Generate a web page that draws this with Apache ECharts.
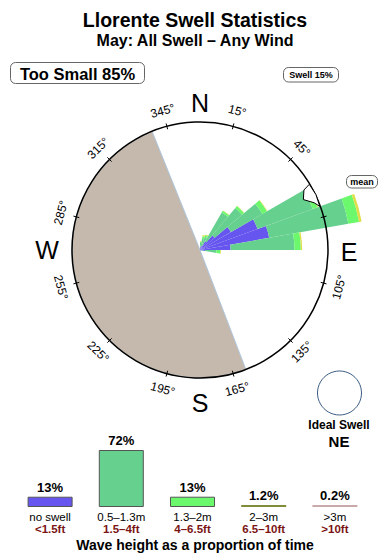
<!DOCTYPE html>
<html><head><meta charset="utf-8">
<script src="https://cdn.jsdelivr.net/npm/echarts@6/dist/echarts.min.js"></script>
<style>html,body{margin:0;padding:0;background:#fff}#c{width:390px;height:560px}</style>
</head><body><div id="c"></div>
<script>
// ---- Data ----
const directionBins = ['0','10','20','30','40','50','60','70','80','90','100','110','120','130','140','150','160','170','180','190','200','210','220','230','240','250','260','270','280','290','300','310','320','330','340','350'];
// radial length per 10° bin (units: compass circle = 10)
const noSwell    = [0.2,0.3,0.4,0.8,1.5,2.8,4.8,5.5,2.4,0.4,0.1,0,0,0,0,0,0,0,0,0,0,0,0,0,0,0,0,0,0,0,0,0,0,0,0,0];
const swell05_13 = [0.35,0.6,0.7,2.6,2.8,2.85,4.6,6.3,5.0,0.9,0.15,0,0,0,0,0,0,0,0,0,0,0,0,0,0,0,0,0,0,0,0,0,0,0,0,0];
const swell13_2  = [0.1,0.2,0.15,0.15,0.2,0.4,0.4,0.85,0.5,0.3,0.05,0,0,0,0,0,0,0,0,0,0,0,0,0,0,0,0,0,0,0,0,0,0,0,0,0];
const swell2_3   = [0.05,0.1,0.05,0.03,0.03,0.05,0.05,0.2,0.1,0.05,0,0,0,0,0,0,0,0,0,0,0,0,0,0,0,0,0,0,0,0,0,0,0,0,0,0];
const meanDirection = 64.5;
const landFrom = 159, landTo = 338;
const degreeTicks = [15,45,75,105,135,165,195,225,255,285,315,345];
const compassPoints = ['N','E','S','W'];
const heightLabels = ['no swell','0.5–1.3m','1.3–2m','2–3m','>3m'];
const feetLabels = ['<1.5ft','1.5–4ft','4–6.5ft','6.5–10ft','>10ft'];
const proportions = [13,72,13,1.2,0.2];
const proportionLabels = ['13%','72%','13%','1.2%','0.2%'];

// ---- Styles ----
const FONT = 'Liberation Sans, Arial, Helvetica, sans-serif';
const colBlue = '#6655ee', colGreen = '#66d08e', colLight = '#6cf86c', colYellow = '#dede48';
const legendColors = [colBlue, colGreen, colLight, '#7f8c3a', '#c9a9a9'];
const legendBorders = ['#555','#555','#555','#7f8c3a','#c9a9a9'];
const CX = 200, CY = 250, CR = 128;

function pt(bearing, r){
  const a = bearing*Math.PI/180;
  return [CX + r*Math.sin(a), CY - r*Math.cos(a)];
}
const graphics = [];
// land sector
graphics.push({type:'sector', z:0, shape:{cx:CX, cy:CY, r:CR, r0:0,
  startAngle:(landFrom-90)*Math.PI/180, endAngle:(landTo-90)*Math.PI/180, clockwise:true},
  style:{fill:'#c5b9ad', stroke:'#aec6dc', lineWidth:1}});
// degree labels
degreeTicks.forEach(d=>{
  const p = pt(d,144);
  let rot;
  if (d>=270 || d<=90) rot = -((d>180?d-360:d))*Math.PI/180;
  else rot = -(d-180)*Math.PI/180;
  graphics.push({type:'text', z:1, x:p[0], y:p[1], rotation:rot,
    style:{text:d+'°', x:0, y:0, fill:'#000', font:'12px '+FONT, fontSize:12, fontFamily:FONT,
      align:'center', verticalAlign:'middle', textAlign:'center', textVerticalAlign:'middle'}});
  const a = pt(d,125), b = pt(d,131);
  graphics.push({type:'line', z:10, shape:{x1:a[0],y1:a[1],x2:b[0],y2:b[1]}, style:{stroke:'#000', lineWidth:1}});
});
// compass circle
graphics.push({type:'circle', z:10, shape:{cx:CX, cy:CY, r:CR}, style:{fill:null, stroke:'#000', lineWidth:1.5}});
// compass letters
const cpPos = {N:[200,103], E:[349,252], S:[200,403], W:[47,250]};
compassPoints.forEach(c=>{
  graphics.push({type:'text', z:10, x:cpPos[c][0], y:cpPos[c][1],
    style:{text:c, x:0, y:0, fill:'#000', font:'25px '+FONT, fontSize:25, fontFamily:FONT,
      align:'center', verticalAlign:'middle', textAlign:'center', textVerticalAlign:'middle'}});
});
// mean arrow
const arrowShape = [[-5.5,127.5],[-4.5,120],[-0.5,115],[3,123.5],[5.5,127.5],[0,128.5]];
graphics.push({type:'polygon', z:11, shape:{points:arrowShape.map(s=>pt(meanDirection+s[0], s[1]))},
  style:{fill:'#fff', stroke:'#000', lineWidth:1}});
function box(x,y,w,h,text,size,bold,cx,cy){
  graphics.push({type:'rect', z:10, shape:{x:x,y:y,width:w,height:h,r:5}, style:{fill:'#fff', stroke:'#666', lineWidth:1}});
  graphics.push({type:'text', z:11, x:cx, y:cy, style:{text:text, x:0, y:0, fill:'#000',
    font:(bold?'bold ':'')+size+'px '+FONT, fontSize:size, fontWeight:bold?'bold':'normal', fontFamily:FONT,
    align:'center', verticalAlign:'middle', textAlign:'center', textVerticalAlign:'middle'}});
}
box(346.5,175.5,31,12.5,'mean',9,true,362,182);
box(10.5,62.5,134,21,'Too Small 85%',16.5,true,77.5,73.5);
box(283.5,67.5,55,14.5,'Swell 15%',9,true,311,75);
function txt(x,y,text,size,bold,color){
  graphics.push({type:'text', z:11, x:x, y:y, style:{text:text, x:0, y:0, fill:color||'#000',
    font:(bold?'bold ':'')+size+'px '+FONT, fontSize:size, fontWeight:bold?'bold':'normal', fontFamily:FONT,
    align:'center', verticalAlign:'middle', textAlign:'center', textVerticalAlign:'middle'}});
}
txt(195,20,'Llorente Swell Statistics',19.5,true);
txt(195,40,'May: All Swell – Any Wind',16,true);
// ideal swell
graphics.push({type:'circle', z:10, shape:{cx:339.5, cy:393, r:22}, style:{fill:'#fff', stroke:'#3b5b82', lineWidth:1}});
txt(339,425,'Ideal Swell',12,true);
txt(339,441,'NE',15,true);
txt(195,545,'Wave height as a proportion of time',14,true);

const roseSeries = [
  {name:'no swell', data:noSwell, color:colBlue},
  {name:'0.5–1.3m', data:swell05_13, color:colGreen},
  {name:'1.3–2m', data:swell13_2, color:colLight},
  {name:'2–3m', data:swell2_3, color:colYellow}
].map(s=>({type:'bar', coordinateSystem:'polar', stack:'rose', name:s.name, data:s.data,
  barCategoryGap:'0%', barGap:'0%', z:2, itemStyle:{color:s.color}, emphasis:{disabled:true}, silent:true}));

const option = {
  animation:false,
  textStyle:{fontFamily:FONT},
  polar:{center:[CX,CY], radius:166},
  angleAxis:{type:'category', data:directionBins, startAngle:90, clockwise:true, boundaryGap:true,
    axisLine:{show:false}, axisTick:{show:false}, axisLabel:{show:false}, splitLine:{show:false}, splitArea:{show:false}},
  radiusAxis:{type:'value', min:0, max:13, axisLine:{show:false}, axisTick:{show:false}, axisLabel:{show:false}, splitLine:{show:false}},
  grid:{left:14.5, right:19.5, top:450, bottom:53, containLabel:false},
  xAxis:{type:'category', data:heightLabels, axisLine:{show:false}, axisTick:{show:false},
    axisLabel:{interval:0, margin:4,
      formatter:(v,i)=>'{a|'+heightLabels[i]+'}\n{b|'+feetLabels[i]+'}',
      rich:{a:{fontSize:11.5, color:'#000', lineHeight:12, height:12, fontFamily:FONT},
            b:{fontSize:11.5, fontWeight:'bold', color:'#7a1414', lineHeight:12, height:12, fontFamily:FONT}}}},
  yAxis:{type:'value', min:0, max:72, show:false, splitLine:{show:false}},
  series:[...roseSeries,
    {type:'bar', xAxisIndex:0, yAxisIndex:0, barWidth:45, barMinHeight:2, silent:true,
     data:proportions.map((v,i)=>({value:v, itemStyle:{color:legendColors[i], borderColor:legendBorders[i], borderWidth:i<3?1:0}})),
     label:{show:true, position:'top', distance:3, fontSize:13, fontWeight:'bold', color:'#000', fontFamily:FONT,
       formatter:p=>proportionLabels[p.dataIndex]}}
  ],
  graphic:{elements:graphics}
};
const chart = echarts.init(document.getElementById('c'), null, {renderer:'svg'});
chart.setOption(option);
</script></body></html>
